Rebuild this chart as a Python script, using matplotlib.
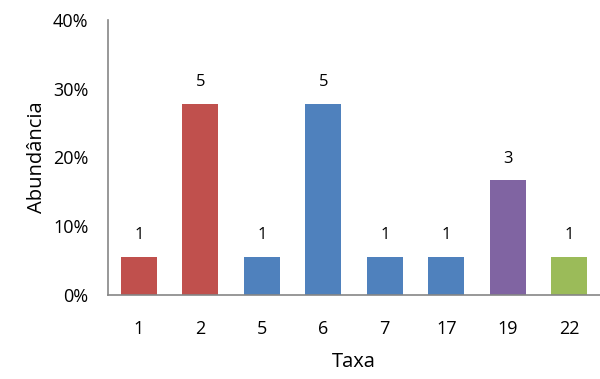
import matplotlib
matplotlib.use("Agg")
import matplotlib.pyplot as plt
from matplotlib.ticker import PercentFormatter

plt.rcParams['font.family'] = ['Open Sans', 'DejaVu Sans']

taxa = ["1", "2", "5", "6", "7", "17", "19", "22"]
counts = [1, 5, 1, 5, 1, 1, 3, 1]
colors = ["#C0504D", "#C0504D", "#4F81BD", "#4F81BD", "#4F81BD", "#4F81BD", "#8064A2", "#9BBB59"]
total = sum(counts)
abund = [c / total for c in counts]

fig = plt.figure(figsize=(6, 3.79), dpi=100)
ax = fig.add_axes([108/600, (379-295)/379, 492/600, 275/379])
x = list(range(len(taxa)))
ax.bar(x, abund, width=0.58, color=colors)
for xi, a, c in zip(x, abund, counts):
    ax.text(xi, a + 0.02, str(c), ha='center', va='bottom', fontsize=12)

ax.set_xlim(-0.5, 7.5)
ax.set_ylim(0, 0.4)
ax.set_yticks([0, 0.1, 0.2, 0.3, 0.4])
ax.yaxis.set_major_formatter(PercentFormatter(1.0, decimals=0))
ax.set_xticks(x)
ax.set_xticklabels(taxa)
ax.tick_params(axis='both', length=0, labelsize=13)
ax.tick_params(axis='x', pad=18)
ax.tick_params(axis='y', pad=14)
for s in ['top', 'right']:
    ax.spines[s].set_visible(False)
for s in ['left', 'bottom']:
    ax.spines[s].set_color('#868686')
    ax.spines[s].set_linewidth(1.2)
ax.set_xlabel("Taxa", fontsize=14.5, labelpad=10)
ax.set_ylabel("Abundância", fontsize=14.5, labelpad=4)

fig.savefig("out.png", dpi=100)
